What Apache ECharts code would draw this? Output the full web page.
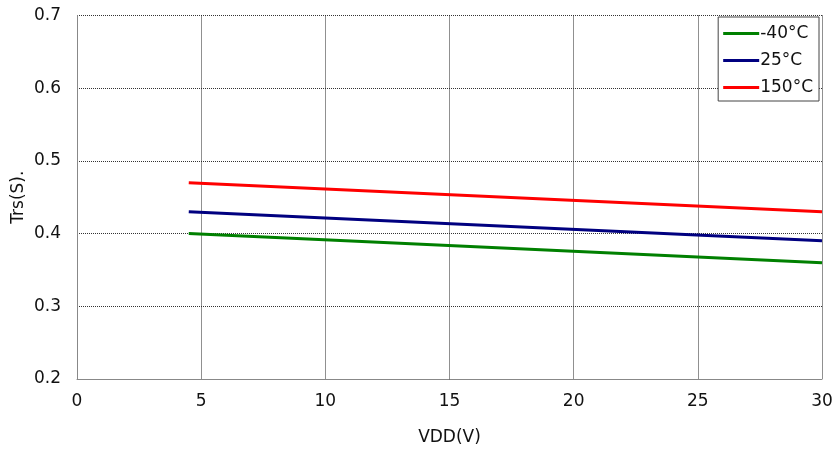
<!DOCTYPE html>
<html><head><meta charset="utf-8">
<script src="https://cdn.jsdelivr.net/npm/echarts@6/dist/echarts.min.js"></script>
<style>html,body{margin:0;padding:0;background:#fff}#c{width:832px;height:450px}</style>
</head><body><div id="c"></div>
<script>
const seriesNames = ['-40°C', '25°C', '150°C'];
const seriesColors = ['#008000', '#000080', '#ff0000'];
const vddPoints = [4.5, 30];
const trsM40 = [0.40, 0.36];
const trs25 = [0.43, 0.39];
const trs150 = [0.47, 0.43];
const allData = [trsM40, trs25, trs150];

const chart = echarts.init(document.getElementById('c'));
const font = 'DejaVu Sans';
chart.setOption({
  animation: false,
  backgroundColor: '#fff',
  grid: {left: 77, right: 10, top: 15.5, bottom: 71, containLabel: false, outerBoundsMode: 'none'},
  legend: {
    orient: 'vertical', right: 13, top: 17,
    borderColor: '#444', borderWidth: 1, backgroundColor: '#fff',
    padding: [8, 6, 5, 5], itemGap: 10,
    icon: 'rect', itemWidth: 36, itemHeight: 3,
    textStyle: {fontFamily: font, fontSize: 17, color: '#111', padding: [0, 0, 0, -4]},
    data: seriesNames
  },
  xAxis: {
    type: 'value', min: 0, max: 30, interval: 5,
    name: 'VDD(V)', nameLocation: 'middle', nameGap: 50, nameMoveOverlap: false,
    nameTextStyle: {fontFamily: font, fontSize: 17, color: '#111'},
    axisLine: {lineStyle: {color: '#888', width: 1}},
    axisTick: {show: false},
    axisLabel: {fontFamily: font, fontSize: 17, color: '#111', margin: 14},
    splitLine: {show: true, lineStyle: {color: '#222', type: [1, 1], width: 1}}
  },
  yAxis: {
    type: 'value', min: 0.2, max: 0.7, interval: 0.1,
    name: 'Trs(S).', nameLocation: 'middle', nameGap: 50, nameRotate: 90, nameMoveOverlap: false,
    nameTextStyle: {fontFamily: font, fontSize: 17, color: '#111'},
    axisLine: {show: true, lineStyle: {color: '#888', width: 1}},
    axisTick: {show: false},
    axisLabel: {fontFamily: font, fontSize: 17, color: '#111', margin: 16,
      formatter: v => v.toFixed(1)},
    splitLine: {show: true, lineStyle: {color: '#333', type: [1, 1], width: 1}}
  },
  series: seriesNames.map((n, i) => ({
    name: n, type: 'line', symbol: 'none',
    lineStyle: {color: seriesColors[i], width: 3},
    itemStyle: {color: seriesColors[i]},
    data: vddPoints.map((x, j) => [x, allData[i][j]])
  }))
});
</script></body></html>
